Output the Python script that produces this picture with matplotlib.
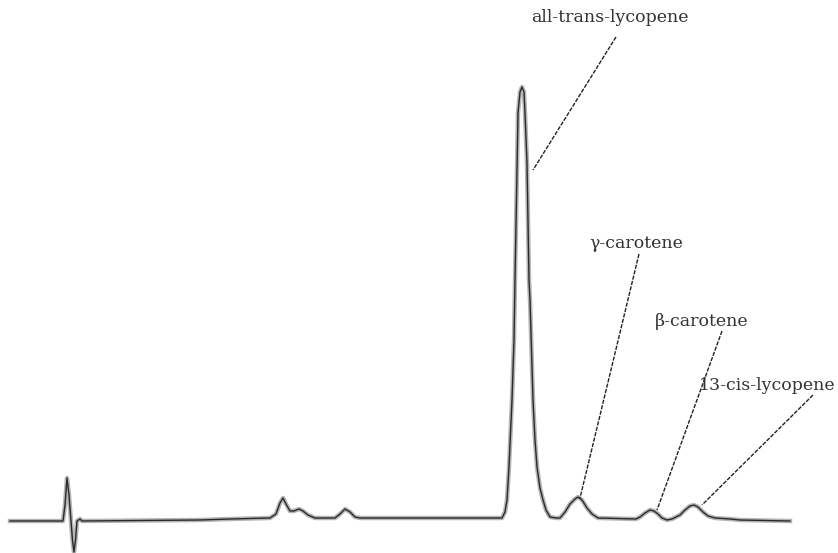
import matplotlib
matplotlib.use("Agg")
import matplotlib.pyplot as plt

# chromatogram trace (retention, signal above baseline)
rt = [10, 63, 65, 67, 69, 71, 72.5, 74, 75.5, 77, 80, 82, 200, 230, 270, 276, 280, 283, 286,
      290, 294, 299, 303, 308, 315, 335, 340, 345, 350, 355, 360, 498, 502, 505, 507, 509,
      512, 514, 515, 516, 517, 518, 520, 522, 524, 525, 527, 529, 530, 533, 535, 537, 540,
      543, 546, 550, 556, 560, 565, 570, 575, 578, 582, 587, 592, 598, 636, 640,
      645, 650, 654, 658, 662, 667, 672, 680, 685, 690, 694, 698, 703, 708, 715, 730, 740, 790]
signal = [0, 0, 16, 43, 26, 0, -19, -31, -19, 0, 2, 0, 1, 2, 3, 7, 18, 23, 17,
          10, 10, 12, 10, 6, 3, 3, 7, 12, 9, 4, 3, 3, 3, 9, 21, 54,
          121, 181, 241, 296, 351, 408, 429, 434, 429, 408, 358, 241, 221, 121, 81, 54, 33,
          21, 11, 4, 3, 3, 9, 17, 22, 24, 21, 13, 7, 3, 2, 4,
          8, 11, 10, 7, 3, 1, 2, 6, 11, 15, 16, 14, 9, 5, 3, 2, 1, 0]

# peak labels: name, point on peak, label centre, top of leader line
peak_names = ["all-trans-lycopene", "γ-carotene", "β-carotene", "13-cis-lycopene"]
peak_points = [(533, 351), (580, 23), (657, 11), (702, 16)]
label_pos = [(610, 504), (636, 277), (702, 199), (767, 136)]
leader_top = [(616, 484), (639, 267), (722, 190), (813, 126)]

fig = plt.figure(figsize=(8.38, 5.53), dpi=100)
ax = fig.add_axes([0, 0, 1, 1])

# doubled look of the overlaid traces
ax.plot(rt, signal, color="#b4b4b4", lw=3.2, solid_joinstyle="round")
ax.plot(rt, signal, color="#2a2a2a", lw=1.0, solid_joinstyle="round")

for name, pt, lab, top in zip(peak_names, peak_points, label_pos, leader_top):
    ax.plot([top[0], pt[0]], [top[1], pt[1]], color="#222222", lw=1.0,
            linestyle=(0, (3, 1)))
    ax.text(lab[0], lab[1], name, ha="center", va="center", fontsize=12.5,
            family="DejaVu Serif", color="#333333")

ax.set_xlim(0, 838)
ax.set_ylim(-32, 521)
ax.axis("off")

fig.savefig("out.png", dpi=100, facecolor="white")
